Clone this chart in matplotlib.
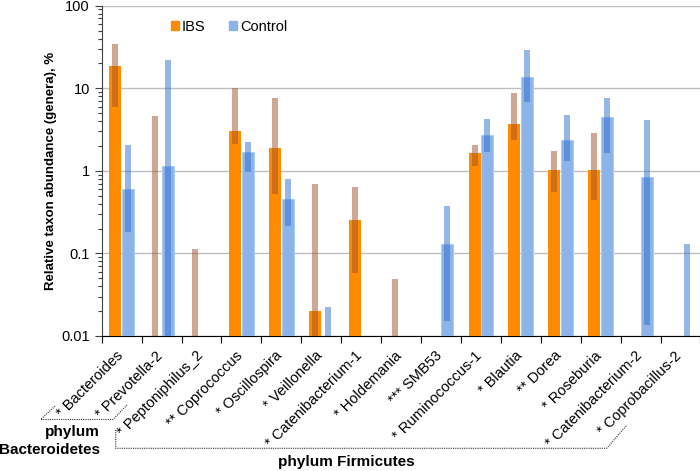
import numpy as np
import matplotlib
matplotlib.use("Agg")
import matplotlib.pyplot as plt
import matplotlib.transforms as mtransforms
from matplotlib.patches import Patch
from matplotlib.lines import Line2D

plt.rcParams['font.family'] = ['Liberation Sans', 'DejaVu Sans']

# genera (x tick labels)
genera = ['* Bacteroides', '* Prevotella-2', '* Peptoniphilus_2', '** Coprococcus',
          '* Oscillospira', '* Veillonella', '* Catenibacterium-1', '* Holdemania',
          '*** SMB53', '* Ruminococcus-1', '* Blautia', '** Dorea', '* Roseburia',
          '* Catenibacterium-2', '* Coprobacillus-2']

# IBS: median and spread (lo/hi), 0 = down to the axis, None = nothing drawn
ibs_med = [18.6, 0, 0, 3.04, 1.91, 0.02, 0.256, 0, 0, 1.63, 3.66, 1.02, 1.02, 0, 0]
ibs_lo = [5.98, 0, 0, 2.13, 0.53, 0, 0.0586, 0, None, 1.16, 2.39, 0.56, 0.448, None, None]
ibs_hi = [34.7, 4.57, 0.113, 10.0, 7.55, 0.69, 0.64, 0.0486, None, 2.04, 8.69, 1.72, 2.88, None, None]

# Control
ctrl_med = [0.60, 1.15, 0, 1.69, 0.45, 0, 0, 0, 0.130, 2.69, 13.7, 2.37, 4.46, 0.84, 0]
ctrl_lo = [0.18, 0, None, 0.97, 0.215, 0, None, None, 0.0154, 1.69, 6.88, 1.30, 1.63, 0.0135, 0]
ctrl_hi = [2.06, 21.8, None, 2.26, 0.79, 0.0225, None, None, 0.376, 4.21, 29.0, 4.74, 7.6, 4.17, 0.13]

W, H = 700, 471
fig = plt.figure(figsize=(W / 100, H / 100), dpi=100)
ax = fig.add_axes([101.7 / W, 1 - 336 / H, 598.8 / W, (336 - 5.7) / H])

FLOOR = 1e-3
x = np.arange(len(genera))
off, bw, tw = 0.16, 0.30, 0.15


def draw(med, lo, hi, xpos, main_col, thin_col, edge):
    for xi, m, l, h in zip(xpos, med, lo, hi):
        if m > 0:
            ax.bar(xi, m - FLOOR, bottom=FLOOR, width=bw, color=main_col,
                   edgecolor=edge, linewidth=0.8 if edge != 'none' else 0, zorder=3)
        if h is not None:
            b = l if l > 0 else FLOOR
            ax.bar(xi, h - b, bottom=b, width=tw, color=thin_col, alpha=0.5,
                   linewidth=0, zorder=4)


draw(ibs_med, ibs_lo, ibs_hi, x - off, '#FF8C00', '#A0522D', 'none')
draw(ctrl_med, ctrl_lo, ctrl_hi, x + off, '#8DB4E8', '#2F6FD0', '#A9CFF5')

ax.set_yscale('log')
ax.set_ylim(0.01, 100)
ax.set_xlim(-0.5, len(genera) - 0.5)
ax.set_yticks([0.01, 0.1, 1, 10, 100])
ax.set_yticklabels(['0.01', '0.1', '1', '10', '100'], fontsize=10.5)
ax.yaxis.grid(True, which='major', color='#BFBFBF', linewidth=1, zorder=0)
ax.set_axisbelow(True)
ax.tick_params(axis='y', which='major', direction='out', length=5, color='#404040', width=0.8)
ax.tick_params(axis='y', which='minor', direction='out', length=3, color='#404040', width=0.8)
ax.set_ylabel('Relative taxon abundance (genera), %', fontsize=9.5, fontweight='bold', labelpad=3)

ax.set_xticks(x)
ax.set_xticklabels(genera, rotation=45, ha='right', va='top', rotation_mode='anchor', fontsize=10.5)
ax.tick_params(axis='x', which='major', length=0, pad=9)
shift = mtransforms.ScaledTranslation(-6 / 100, 0, fig.dpi_scale_trans)
for lab in ax.get_xticklabels():
    lab.set_transform(lab.get_transform() + shift)
ax.set_xticks(np.arange(len(genera) + 1) - 0.5, minor=True)
ax.tick_params(axis='x', which='minor', direction='out', length=5, color='black', width=0.8)

for s in ['top', 'right']:
    ax.spines[s].set_visible(False)
ax.spines['left'].set_color('#404040')
ax.spines['bottom'].set_color('black')

handles = [Patch(color='#FF8C00', label='IBS'), Patch(color='#8DB4E8', label='Control')]
fig.legend(handles=handles, loc='upper left', bbox_to_anchor=(171 / W, 1 - 20 / H), ncol=2,
           frameon=False, fontsize=10.5, handlelength=0.55, handleheight=0.55,
           handletextpad=0.2, columnspacing=1.6, borderpad=0, borderaxespad=0)


# phylum brackets, drawn in pixel coordinates of the figure
def fline(xs, ys):
    fig.add_artist(Line2D([v / W for v in xs], [1 - v / H for v in ys], transform=fig.transFigure,
                          color='#333333', linewidth=0.8, linestyle=(0, (1, 1))))


fline([55, 40.7, 113, 127], [406, 419.5, 419.5, 405])
fig.text(100 / W, 1 - 432 / H, 'phylum', ha='right', va='center', fontsize=11, fontweight='bold')
fig.text(100 / W, 1 - 450 / H, 'Bacteroidetes', ha='right', va='center', fontsize=11, fontweight='bold')

fline([115.7, 115.7, 606.7, 627], [430, 448.3, 448.3, 425])
fig.text(346 / W, 1 - 462 / H, 'phylum Firmicutes', ha='center', va='center', fontsize=11, fontweight='bold')

fig.savefig('out.png', dpi=100)
